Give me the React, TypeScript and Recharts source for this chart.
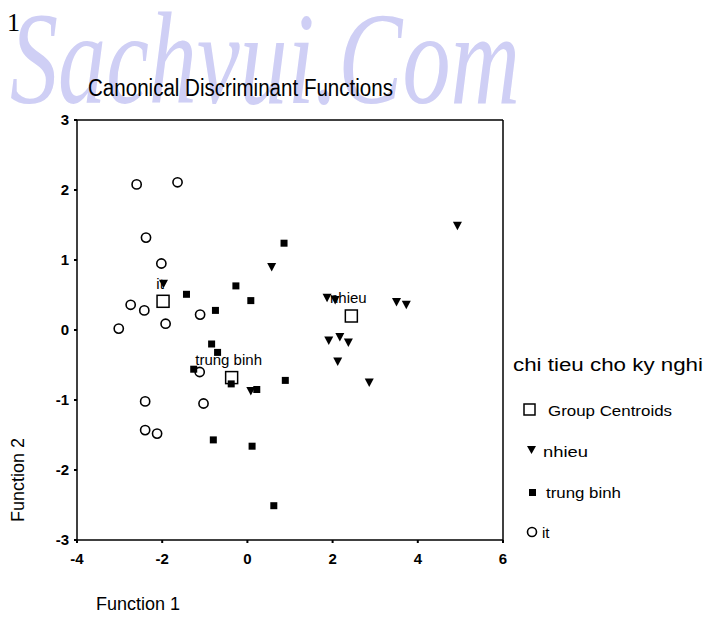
import React from 'react';
import { ScatterChart, Scatter, XAxis, YAxis, ReferenceLine, LabelList } from 'recharts';

// tick labels
const xTicks = [-4, -2, 0, 2, 4, 6];
const yTicks = [-3, -2, -1, 0, 1, 2, 3];

// group "nhieu"
const nhieu = [
  { x: -1.97, y: 0.66 },
  { x: 0.57, y: 0.9 },
  { x: 4.93, y: 1.49 },
  { x: 3.5, y: 0.4 },
  { x: 3.73, y: 0.36 },
  { x: 1.87, y: 0.46 },
  { x: 2.06, y: 0.43 },
  { x: 1.91, y: -0.15 },
  { x: 2.17, y: -0.1 },
  { x: 2.37, y: -0.18 },
  { x: 2.12, y: -0.45 },
  { x: 2.86, y: -0.75 },
  { x: 0.08, y: -0.87 },
];

// group "trung binh"
const trungBinh = [
  { x: 0.86, y: 1.24 },
  { x: -0.27, y: 0.63 },
  { x: -1.43, y: 0.51 },
  { x: 0.08, y: 0.42 },
  { x: -0.75, y: 0.28 },
  { x: -0.84, y: -0.2 },
  { x: -0.7, y: -0.32 },
  { x: -1.26, y: -0.56 },
  { x: -0.38, y: -0.77 },
  { x: 0.22, y: -0.85 },
  { x: 0.89, y: -0.72 },
  { x: -0.8, y: -1.57 },
  { x: 0.11, y: -1.66 },
  { x: 0.62, y: -2.51 },
];

// group "it"
const it = [
  { x: -2.6, y: 2.08 },
  { x: -1.64, y: 2.11 },
  { x: -2.38, y: 1.32 },
  { x: -2.02, y: 0.95 },
  { x: -2.74, y: 0.36 },
  { x: -2.42, y: 0.28 },
  { x: -3.02, y: 0.02 },
  { x: -1.92, y: 0.09 },
  { x: -1.11, y: 0.22 },
  { x: -1.12, y: -0.6 },
  { x: -2.4, y: -1.02 },
  { x: -1.03, y: -1.05 },
  { x: -2.4, y: -1.43 },
  { x: -2.12, y: -1.48 },
];

// group centroids
const centroids = [
  { x: -1.98, y: 0.41, name: 'it' },
  { x: 2.44, y: 0.2, name: 'nhieu' },
  { x: -0.37, y: -0.68, name: 'trung binh' },
];

const FONT = '"Liberation Sans", Arial, sans-serif';

const TriangleDown = (p: any) => (
  <path d={`M${p.cx - 4.5},${p.cy - 4} L${p.cx + 4.5},${p.cy - 4} L${p.cx},${p.cy + 4.5} Z`} fill="#000" />
);
const FilledSquare = (p: any) => <rect x={p.cx - 3.5} y={p.cy - 3.5} width={7} height={7} fill="#000" />;
const OpenCircle = (p: any) => <circle cx={p.cx} cy={p.cy} r={4.6} fill="none" stroke="#000" strokeWidth={1.6} />;
const OpenSquare = (p: any) => (
  <rect x={p.cx - 6} y={p.cy - 6} width={12} height={12} fill="none" stroke="#000" strokeWidth={1.5} />
);

// centroid label: one line, centred a little above the marker
const CentroidLabel = (p: any) => (
  <text x={p.x + p.width / 2 - 3} y={p.y - 8} textAnchor="middle" fontFamily={FONT} fontSize={15} fill="#000">
    {p.value}
  </text>
);

const tickStyle = { fill: '#000', fontSize: 15, fontWeight: 'bold', fontFamily: FONT };

export default function App() {
  return (
    <div style={{ position: 'absolute', left: 0, top: 0, width: 704, height: 622, background: '#fff' }}>
      <svg width={704} height={622} style={{ position: 'absolute', left: 0, top: 0 }}>
        <text x={10} y={103} textLength={510} lengthAdjust="spacingAndGlyphs" fontFamily='"Liberation Serif", serif'
          fontStyle="italic" fontSize={132} fill="#cfcff5">Sachvui.Com</text>
        <text x={7} y={31} fontFamily='"Liberation Serif", serif' fontSize={26} fill="#000">1</text>
        <text x={88} y={96} textLength={305} lengthAdjust="spacingAndGlyphs" fontFamily={FONT} fontSize={23} fill="#000">
          Canonical Discriminant Functions
        </text>
        <text x={96} y={610} fontFamily={FONT} fontSize={18} fill="#000">Function 1</text>
        <text x={24} y={480} transform="rotate(-90 24 480)" textAnchor="middle" fontFamily={FONT} fontSize={18} fill="#000">
          Function 2
        </text>
        <g fontFamily={FONT} fill="#000">
          <text x={513} y={371} fontSize={18} textLength={190} lengthAdjust="spacingAndGlyphs">chi tieu cho ky nghi</text>
          <rect x={524} y={404} width={11} height={11} fill="none" stroke="#000" strokeWidth={1.5} />
          <text x={548} y={416} fontSize={15} textLength={124} lengthAdjust="spacingAndGlyphs">Group Centroids</text>
          <path d="M527,446 L536,446 L531.5,454 Z" />
          <text x={543} y={457} fontSize={15} textLength={45} lengthAdjust="spacingAndGlyphs">nhieu</text>
          <rect x={529} y={489} width={7} height={7} />
          <text x={546} y={498} fontSize={15} textLength={75} lengthAdjust="spacingAndGlyphs">trung binh</text>
          <circle cx={532} cy={532} r={4.5} fill="none" stroke="#000" strokeWidth={1.6} />
          <text x={542} y={538} fontSize={15}>it</text>
        </g>
      </svg>
      <div style={{ position: 'absolute', left: 0, top: 0 }}>
        <ScatterChart width={704} height={622} margin={{ top: 120, right: 201, bottom: 52, left: 47 }}>
          <XAxis
            type="number"
            dataKey="x"
            domain={[-4, 6]}
            ticks={xTicks}
            interval={0}
            height={30}
            axisLine={{ stroke: '#000', strokeWidth: 1.5 }}
            tickLine={{ stroke: '#000', strokeWidth: 2 }}
            tickSize={3}
            tickMargin={10}
            tick={tickStyle}
          />
          <YAxis
            type="number"
            dataKey="y"
            domain={[-3, 3]}
            ticks={yTicks}
            interval={0}
            width={30}
            axisLine={{ stroke: '#000', strokeWidth: 1.5 }}
            tickLine={{ stroke: '#000', strokeWidth: 2 }}
            tickSize={3}
            tickMargin={5}
            tick={tickStyle}
          />
          <ReferenceLine y={3} stroke="#000" strokeWidth={1.5} />
          <ReferenceLine x={6} stroke="#000" strokeWidth={1.5} />
          <Scatter data={centroids} shape={OpenSquare} isAnimationActive={false}>
            <LabelList dataKey="name" content={CentroidLabel} />
          </Scatter>
          <Scatter data={nhieu} shape={TriangleDown} isAnimationActive={false} />
          <Scatter data={trungBinh} shape={FilledSquare} isAnimationActive={false} />
          <Scatter data={it} shape={OpenCircle} isAnimationActive={false} />
        </ScatterChart>
      </div>
    </div>
  );
}
